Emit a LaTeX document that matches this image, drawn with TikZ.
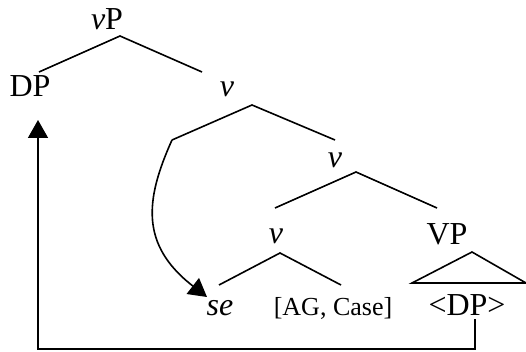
\documentclass[tikz,border=0pt]{standalone}
\usepackage{fontspec}
\setmainfont{Liberation Serif}
\usetikzlibrary{arrows.meta}

\begin{document}
\begin{tikzpicture}[
  x=1pt, y=-1pt,
  cat/.style={anchor=base, inner sep=0pt, font=\fontsize{32}{38}\selectfont},
  feat/.style={cat, font=\fontsize{26}{31}\selectfont},
  branch/.style={line width=1.6pt},
  move/.style={line width=1.6pt, -{Triangle[length=18pt, width=20pt]}}
]
\useasboundingbox (0,0) rectangle (526,352);

\node[cat] (vP) at (107,30) {\textit{v}P};
\node[cat] (DP) at (30,97) {DP};
\node[cat] (vbar) at (227,97) {\textit{v}};
\node[cat] (vmid) at (335,168) {\textit{v}};
\node[cat] (vhead) at (276,243) {\textit{v}};
\node[cat] (VP) at (447,244) {VP};
\node[cat] (se) at (220,315) {\textit{se}};
\node[feat] (agcase) at (333,315) {[AG, Case]};
\node[cat] (trace) at (467,315) {\textless DP\textgreater};

\coordinate (vPtop) at (120,36);
\coordinate (vPleft) at (39,72);
\coordinate (vPright) at (202,72);
\coordinate (vbartop) at (252,105);
\coordinate (vbarleft) at (172,140);
\coordinate (vbarright) at (335,140);
\coordinate (vmidtop) at (356,172);
\coordinate (vmidleft) at (275,208);
\coordinate (vmidright) at (437,208);
\coordinate (vheadtop) at (280,253);
\coordinate (vheadleft) at (219,285);
\coordinate (vheadright) at (341,285);
\coordinate (VPtop) at (472,252);
\coordinate (VPleft) at (412,283);
\coordinate (VPright) at (526,283);
\coordinate (tracefoot) at (475,319);
\coordinate (loopcorner) at (38,349);
\coordinate (DPfoot) at (38,120);

\draw[branch] (vPleft) -- (vPtop) -- (vPright);
\draw[branch] (vbarleft) -- (vbartop) -- (vbarright);
\draw[branch] (vmidleft) -- (vmidtop) -- (vmidright);
\draw[branch] (vheadleft) -- (vheadtop) -- (vheadright);
\draw[branch] (VPleft) -- (VPtop) -- (VPright) -- cycle;

\draw[move] (vbarleft) .. controls (145,200) and (140,245) .. (207,297);
\draw[move] (tracefoot) |- (loopcorner) -- (DPfoot);
\end{tikzpicture}
\end{document}
